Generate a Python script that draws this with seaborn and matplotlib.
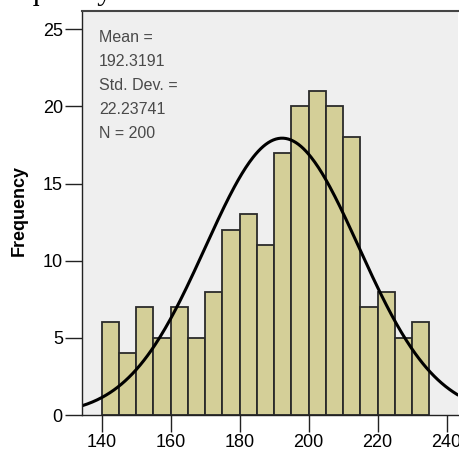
import numpy as np
import pandas as pd
import matplotlib
matplotlib.use("Agg")
import matplotlib.pyplot as plt
import seaborn as sns

# ---- data ----
bin_left = [140, 145, 150, 155, 160, 165, 170, 175, 180, 185,
            190, 195, 200, 205, 210, 215, 220, 225, 230]
counts = [6, 4, 7, 5, 7, 5, 8, 12, 13, 11,
          17, 20, 21, 20, 18, 7, 8, 5, 6]
bin_width = 5
mean_val = 192.3191
std_val = 22.23741
n_val = 200
x_ticks = [140, 160, 180, 200, 220, 240]
y_ticks = [0, 5, 10, 15, 20, 25]

sns.set_theme(style="white")
plt.rcParams['font.family'] = ['Liberation Sans', 'DejaVu Sans']

W, H = 459, 457
fig = plt.figure(figsize=(W / 100, H / 100), dpi=100)
ax_left, ax_right, ax_top, ax_bot = 82.3, 458, 10.7, 415
ax = fig.add_axes([ax_left / W, 1 - ax_bot / H,
                   (ax_right - ax_left) / W, (ax_bot - ax_top) / H])
ax.set_facecolor('#EFEFEF')

df = pd.DataFrame({'x': [b + bin_width / 2 for b in bin_left], 'w': counts})
edges = bin_left + [bin_left[-1] + bin_width]
sns.histplot(data=df, x='x', weights='w', bins=edges, ax=ax,
             color='#D4CF98', alpha=1, edgecolor='#2A2A2A', linewidth=1.3)

# fitted normal curve from mean / sd / N
xs = np.linspace(134.4, 243.3, 300)
ys = n_val * bin_width / (std_val * np.sqrt(2 * np.pi)) * np.exp(-0.5 * ((xs - mean_val) / std_val) ** 2)
sns.lineplot(x=xs, y=ys, ax=ax, color='black', linewidth=2.2)

ax.set_xlim(134.4, 243.3)
ax.set_ylim(0, 26.2)
ax.set_xticks(x_ticks)
ax.set_yticks(y_ticks)
ax.tick_params(axis='both', which='both', direction='out', length=12, width=1,
               color='#222222', labelsize=13, labelcolor='black', pad=2,
               left=True, bottom=True)
ax.set_xlabel('')
ax.set_ylabel('')
for s in ['left', 'bottom']:
    ax.spines[s].set_color('#222222')
    ax.spines[s].set_linewidth(1.0)
ax.spines['top'].set_color('#444444')
ax.spines['top'].set_linewidth(1.5)
ax.spines['right'].set_visible(False)

fig.text(19 / W, 1 - 211 / H, 'Frequency', rotation=90, ha='center', va='center',
         fontsize=13, fontweight='bold', color='black')

stats_lines = ['Mean =', f'{mean_val:.4f}', 'Std. Dev. =', f'{std_val:.5f}', f'N = {n_val}']
for i, t in enumerate(stats_lines):
    fig.text(99 / W, 1 - (37 + i * 24) / H, t, ha='left', va='center',
             fontsize=11.5, color='#4A4A4A')

# cropped caption fragment at the very top
fig.text(12 / W, 1 + 1 / H, 'equency.', ha='left', va='baseline',
         fontsize=22, family=['Liberation Serif', 'DejaVu Serif'], color='black')

fig.savefig('out.png', dpi=100)
